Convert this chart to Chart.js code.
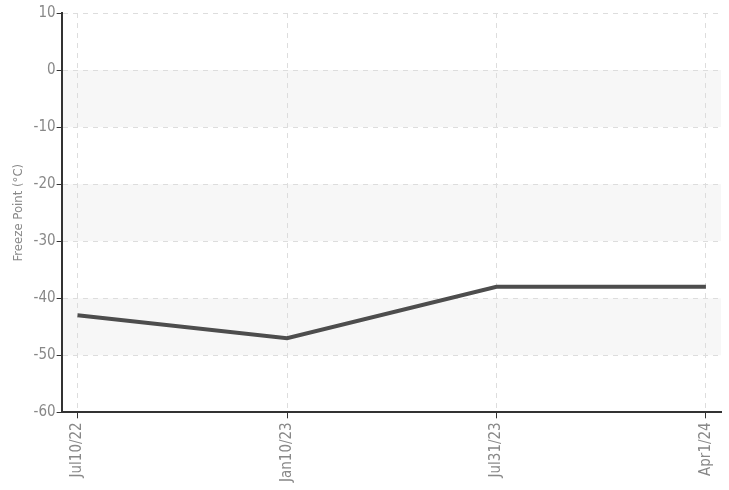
<!DOCTYPE html>
<html>
<head>
<meta charset="utf-8">
<script src="https://cdn.jsdelivr.net/npm/chart.js@4.4.1/dist/chart.umd.min.js"></script>
<style>
  body { margin: 0; background: #fff; }
</style>
</head>
<body>
<canvas id="chart" width="729" height="490"></canvas>
<script>
const sampleDates = ["Jul10/22", "Jan10/23", "Jul31/23", "Apr1/24"];
const freezePoints = [-43, -47, -38, -38];
const yTicks = [-60, -50, -40, -30, -20, -10, 0, 10];

const narrowFont = "'Liberation Sans Narrow', 'DejaVu Sans Condensed', 'Roboto', sans-serif";

// light grey bands between every other pair of y ticks
const bandPlugin = {
  id: 'bands',
  beforeDraw(chart) {
    const ctx = chart.ctx;
    const area = chart.chartArea;
    const y = chart.scales.y;
    ctx.save();
    ctx.fillStyle = '#f7f7f7';
    for (let i = 1; i < yTicks.length - 1; i += 2) {
      const top = y.getPixelForValue(yTicks[i + 1]);
      const bottom = y.getPixelForValue(yTicks[i]);
      ctx.fillRect(area.left, top, area.right - area.left, bottom - top);
    }
    ctx.restore();
  }
};

new Chart(document.getElementById('chart'), {
  type: 'line',
  data: {
    datasets: [{
      label: 'Freeze Point',
      data: freezePoints.map((v, i) => ({ x: i, y: v })),
      borderColor: '#4d4d4d',
      borderWidth: 4,
      pointRadius: 0,
      tension: 0,
      fill: false
    }]
  },
  options: {
    responsive: false,
    animation: false,
    layout: {
      padding: { top: 13, right: 8, bottom: 4, left: 11 }
    },
    plugins: {
      legend: { display: false },
      tooltip: { enabled: false }
    },
    scales: {
      x: {
        type: 'linear',
        min: -0.076,
        max: 3.072,
        afterBuildTicks: scale => {
          scale.ticks = sampleDates.map((d, i) => ({ value: i }));
        },
        ticks: {
          autoSkip: false,
          minRotation: 90,
          maxRotation: 90,
          color: '#888',
          padding: 4,
          font: { family: narrowFont, size: 15 },
          callback: value => sampleDates[value]
        },
        grid: {
          color: '#dddddd',
          tickColor: '#333',
          tickLength: 6,
          tickBorderDash: []
        },
        border: {
          color: '#333',
          width: 2,
          dash: [5, 5]
        }
      },
      y: {
        min: -60,
        max: 10,
        afterBuildTicks: scale => {
          scale.ticks = yTicks.map(v => ({ value: v }));
        },
        ticks: {
          color: '#888',
          padding: 1,
          font: { family: narrowFont, size: 15 }
        },
        title: {
          display: true,
          text: 'Freeze Point (°C)',
          color: '#888',
          padding: { top: 0, bottom: 6 },
          font: { family: narrowFont, size: 13 }
        },
        grid: {
          color: '#dddddd',
          tickColor: '#333',
          tickLength: 5,
          tickBorderDash: []
        },
        border: {
          color: '#333',
          width: 2,
          dash: [5, 5]
        }
      }
    }
  },
  plugins: [bandPlugin]
});
</script>
</body>
</html>
